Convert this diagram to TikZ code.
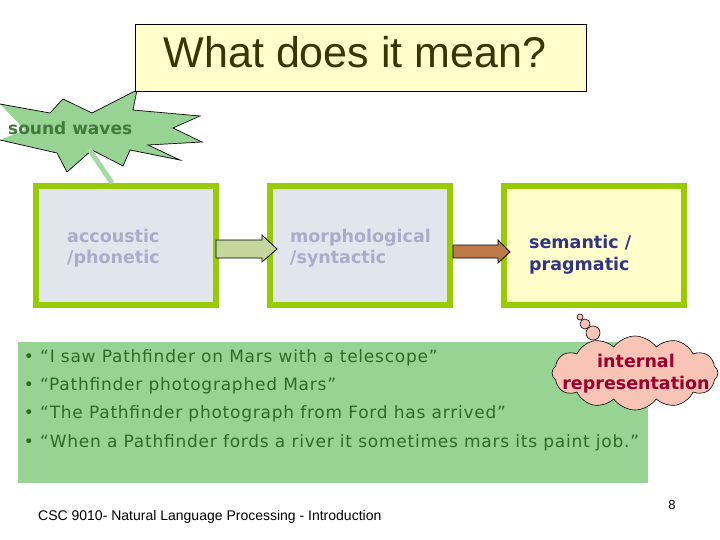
\documentclass[tikz,border=0pt]{standalone}
\usepackage{fontspec}
\setmainfont{DejaVu Sans}
\newfontfamily\arialf{Liberation Sans}
\newfontfamily\bulletf[LetterSpace=4.5]{DejaVu Sans}
\usetikzlibrary{shapes.symbols,calc}
\definecolor{titlefill}{HTML}{FFFFCC}
\definecolor{titletext}{HTML}{363600}
\definecolor{lime}{HTML}{99CC00}
\definecolor{boxgray}{HTML}{E1E5EC}
\definecolor{graytext}{HTML}{A9ADC9}
\definecolor{navy}{HTML}{333388}
\definecolor{lgreen}{HTML}{97D493}
\definecolor{dgreen}{HTML}{2E6A2A}
\definecolor{swgreen}{HTML}{3E7A3A}
\definecolor{arr1}{HTML}{C3D69B}
\definecolor{arr2}{HTML}{BE7A48}
\definecolor{pinkc}{HTML}{F8C4B6}
\definecolor{redtext}{HTML}{99002E}
\tikzset{
  stagebox/.style={draw=lime, line width=6pt, minimum width=180pt, minimum height=119pt, inner sep=0pt},
  stagelbl/.style={anchor=base west, inner sep=0pt, font=\bfseries\fontsize{17.5}{21}\selectfont},
  bullettxt/.style={anchor=base west, inner sep=0pt, text=dgreen, font=\bulletf\fontsize{17}{20}\selectfont},
  bulletdot/.style={anchor=base, inner sep=0pt, text=dgreen, font=\fontsize{17}{20}\selectfont},
  blockarrow/.style={draw=black, line width=0.8pt, line join=miter},
  starline/.style={black, line width=0.7pt, line join=miter},
}
\begin{document}
\begin{tikzpicture}[x=1pt,y=-1pt]
\useasboundingbox (0,0) rectangle (720,540);

% sound waves star
\fill[lgreen] (0,104) -- (50,113) -- (63,99) -- (92,113) -- (137,90) -- (133,110) -- (200,116) -- (173,128) -- (202,142) -- (148,145) -- (180,160) -- (130,150) -- (123,166) -- (92,150) -- (67,172) -- (57,153) -- (0,140) -- (25,130) -- cycle;
\draw[starline] (0,104) -- (50,113) -- (63,99) -- (92,113) -- (137,90) -- (133,110) -- (200,116) -- (173,128) -- (202,142) -- (148,145) -- (180,160) -- (130,150) -- (123,166) -- (92,150) -- (67,172) -- (57,153) -- (0,140);
\node[anchor=base west, inner sep=0pt, text=swgreen, font=\bfseries\fontsize{17}{20}\selectfont] (sw) at (8,135) {sound waves};
\coordinate (swfoot) at (89,149);

% title
\node[draw=black, line width=0.8pt, fill=titlefill, minimum width=451pt, minimum height=67pt, inner sep=0pt] (title) at (360.5,57.5) {};
\node[anchor=base, inner sep=0pt, text=titletext, font=\arialf\fontsize{43}{50}\selectfont] (titletxt) at (355,68) {What does it mean?};

% stage boxes
\node[stagebox, fill=boxgray] (b1) at (126,245.5) {};
\node[stagebox, fill=boxgray] (b2) at (360,245.5) {};
\node[stagebox, fill=titlefill] (b3) at (594,245.5) {};

\draw[line width=5pt, color=lgreen!85!white] (swfoot) -- (b1.north -| 112,0);

\node[stagelbl, text=graytext] (l1a) at (67,242) {accoustic};
\node[stagelbl, text=graytext] (l1b) at (67,263) {/phonetic};
\node[stagelbl, text=graytext] (l2a) at (290,242) {morphological};
\node[stagelbl, text=graytext] (l2b) at (290,263) {/syntactic};
\node[stagelbl, text=navy] (l3a) at (529,248) {semantic /};
\node[stagelbl, text=navy] (l3b) at (529,270) {pragmatic};

% block arrows
\draw[blockarrow, fill=arr1] (216,240) -- (262,240) -- (262,235) -- (277,249) -- (262,262) -- (262,258) -- (216,258) -- cycle;
\draw[blockarrow, fill=arr2] (453,245) -- (498,245) -- (498,240) -- (510,252) -- (498,263) -- (498,258) -- (453,258) -- cycle;

% green text panel
\node[fill=lgreen, minimum width=630pt, minimum height=141pt, inner sep=0pt] (panel) at (333,412.5) {};
\foreach \y/\t [count=\i] in {362/{“I saw Pathfinder on Mars with a telescope”},390/{“Pathfinder photographed Mars”},418/{“The Pathfinder photograph from Ford has arrived”},447/{“When a Pathfinder fords a river it sometimes mars its paint job.”}}{
  \node[bulletdot] (d\i) at (29,\y) {•};
  \node[bullettxt] (s\i) at (40,\y) {\t};
}

% thought bubble
\draw[black, line width=0.6pt, fill=pinkc] (580,317) circle (3);
\draw[black, line width=0.6pt, fill=pinkc] (585,324) circle (5);
\draw[black, line width=0.6pt, fill=pinkc] (593,333) circle (7);
\node[cloud, cloud puffs=12, cloud puff arc=110, aspect=2.3, draw=black, line width=0.6pt, fill=pinkc, minimum width=166pt, minimum height=74pt, inner sep=0pt] (cloud) at (635,373) {};
\node[anchor=base, inner sep=0pt, text=redtext, font=\bfseries\fontsize{17.5}{21}\selectfont] (c1) at (636,367) {internal};
\node[anchor=base, inner sep=0pt, text=redtext, font=\bfseries\fontsize{17.5}{21}\selectfont] (c2) at (636,389) {representation};

% footer
\node[anchor=base west, inner sep=0pt, font=\arialf\fontsize{14}{16}\selectfont] (foot) at (38,520) {CSC 9010- Natural Language Processing - Introduction};
\node[anchor=base, inner sep=0pt, font=\arialf\fontsize{13}{15}\selectfont] (pg) at (672,509) {8};
\end{tikzpicture}
\end{document}
